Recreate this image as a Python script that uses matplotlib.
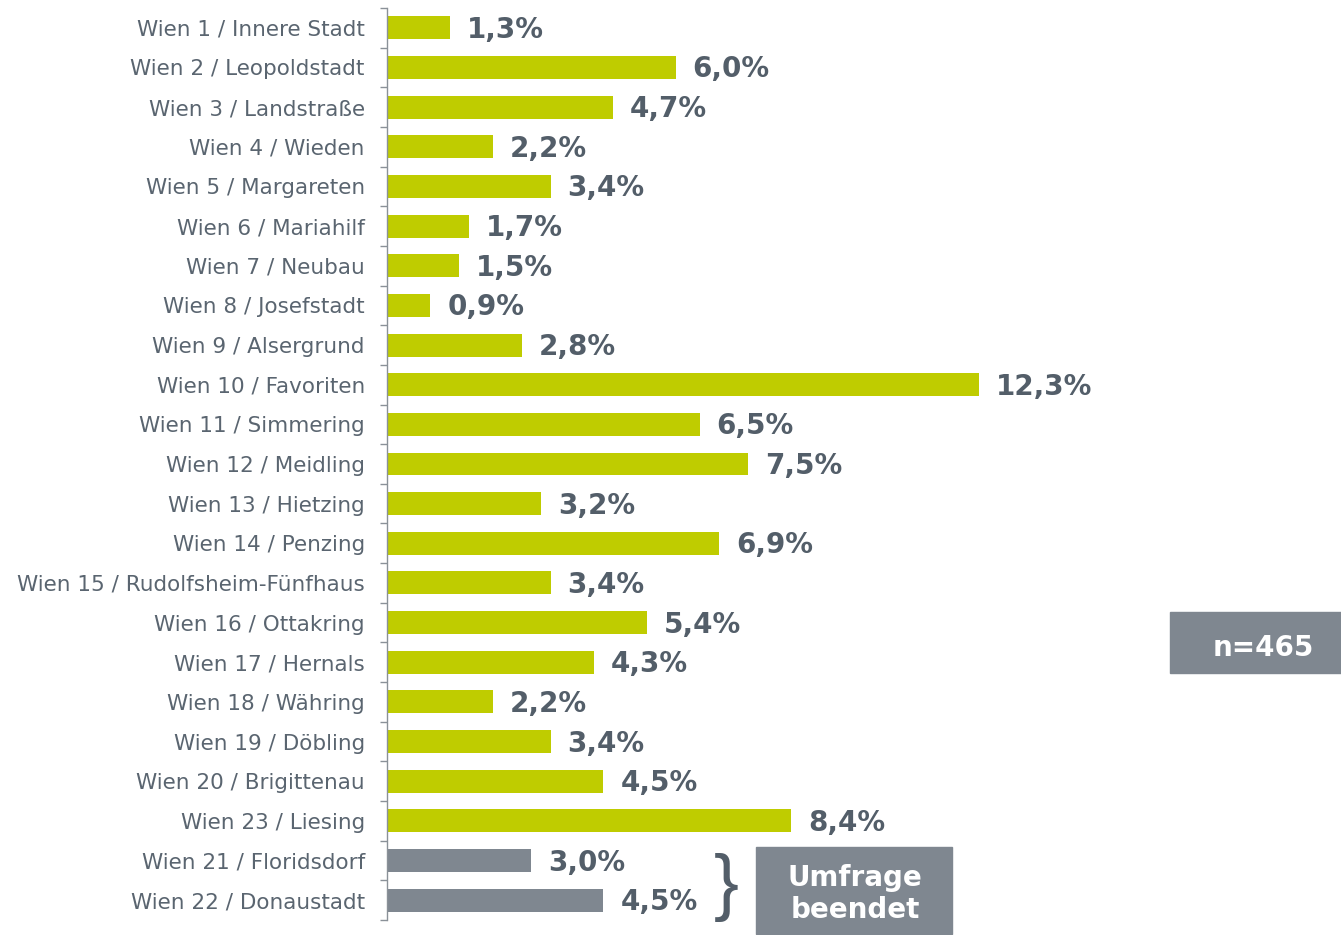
import numpy as np
import matplotlib.pyplot as plt

districts = ["Wien 1 / Innere Stadt", "Wien 2 / Leopoldstadt", "Wien 3 / Landstraße",
             "Wien 4 / Wieden", "Wien 5 / Margareten", "Wien 6 / Mariahilf",
             "Wien 7 / Neubau", "Wien 8 / Josefstadt", "Wien 9 / Alsergrund",
             "Wien 10 / Favoriten", "Wien 11 / Simmering", "Wien 12 / Meidling",
             "Wien 13 / Hietzing", "Wien 14 / Penzing", "Wien 15 / Rudolfsheim-Fünfhaus",
             "Wien 16 / Ottakring", "Wien 17 / Hernals", "Wien 18 / Währing",
             "Wien 19 / Döbling", "Wien 20 / Brigittenau", "Wien 23 / Liesing",
             "Wien 21 / Floridsdorf", "Wien 22 / Donaustadt"]
shares = [1.3, 6.0, 4.7, 2.2, 3.4, 1.7, 1.5, 0.9, 2.8, 12.3, 6.5, 7.5, 3.2, 6.9,
          3.4, 5.4, 4.3, 2.2, 3.4, 4.5, 8.4, 3.0, 4.5]
closed = [False] * 21 + [True, True]

green = "#BFCC00"
grey = "#7F8790"
dark = "#535E69"
label_col = "#5A6570"

fig = plt.figure(figsize=(13.41, 9.35), dpi=100)
ax = fig.add_axes([387 / 1341, 1 - 920 / 935, 1 - 387 / 1341, (920 - 8) / 935])

y = np.arange(len(districts))
colors = [grey if c else green for c in closed]
ax.barh(y, shares, height=0.58, color=colors)

for yi, v in zip(y, shares):
    ax.text(v + 0.35, yi + 0.05, f"{v:.1f}%".replace(".", ","), va="center", ha="left",
            fontsize=20, fontweight="bold", color=dark)

ax.set_xlim(0, 19.83)
ax.set_ylim(len(districts) - 0.5, -0.5)
ax.set_xticks([])
ax.set_yticks(y)
ax.set_yticklabels(districts, fontsize=15.5, color=label_col)
ax.yaxis.set_minor_locator(plt.FixedLocator(np.arange(-0.5, len(districts), 1)))
ax.tick_params(axis="y", which="major", length=0, pad=16)
ax.tick_params(axis="y", which="minor", length=5, width=1, color="#8A9198")
for s in ["top", "right", "bottom"]:
    ax.spines[s].set_visible(False)
ax.spines["left"].set_color("#8A9198")
ax.spines["left"].set_linewidth(1)

# n box
fig.patches.append(plt.Rectangle((1170 / 1341, 1 - 673 / 935), 171 / 1341, 61 / 935,
                                 transform=fig.transFigure, color=grey, zorder=0))
fig.text(1263 / 1341, 1 - 648 / 935, "n=465", ha="center", va="center",
         fontsize=20, fontweight="bold", color="white")

# survey closed box
fig.patches.append(plt.Rectangle((756 / 1341, 1 - 934 / 935), 196 / 1341, 87 / 935,
                                 transform=fig.transFigure, color=grey, zorder=0))
fig.text(855 / 1341, 1 - 894 / 935, "Umfrage\nbeendet", ha="center", va="center",
         fontsize=20, fontweight="bold", color="white", linespacing=1.15)

fig.text(726 / 1341, 1 - 888 / 935, "}", ha="center", va="center", fontsize=54,
         family="Liberation Sans", color=dark)

fig.savefig("out.png", dpi=100)
